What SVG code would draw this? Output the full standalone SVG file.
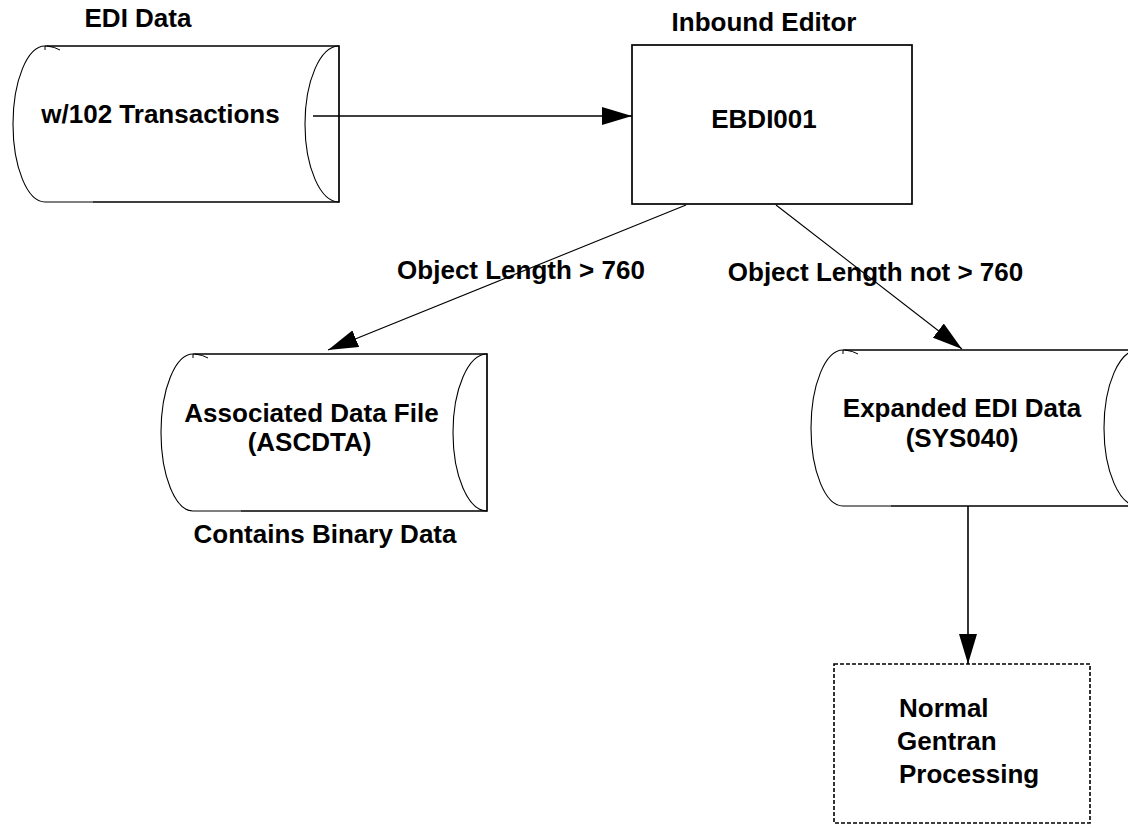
<svg xmlns="http://www.w3.org/2000/svg" width="1128" height="825" viewBox="0 0 1128 825">
<style>
  .t{font-family:"Liberation Sans",Arial,sans-serif;font-weight:bold;font-size:26px;fill:#000}
  .m{text-anchor:middle}
  .edge{fill:none;stroke:#000;stroke-width:1.7}
  .arc{fill:none;stroke:#000;stroke-width:1.1}
  .tick{fill:none;stroke:#000;stroke-width:1}
  .conn{fill:none;stroke:#000;stroke-width:1.1}
  .connb{fill:none;stroke:#000;stroke-width:1.6}
  .box{fill:#fff;stroke:#000;stroke-width:1.7}
  .dash{fill:#fff;stroke:#000;stroke-width:1.6;stroke-dasharray:4 2}
</style>
<defs>
  <marker id="ah" markerUnits="userSpaceOnUse" markerWidth="31" markerHeight="18" refX="30" refY="9" orient="auto">
    <path d="M0,0 L30,9 L0,18 Z" fill="#000"/>
  </marker>
</defs>
<rect width="1128" height="825" fill="#fff"/>

<g id="edi-data">
  <text class="t m" x="138" y="27">EDI Data</text>
  <path class="edge" d="M45,46 L339,46 L339,202 L93,202"/>
  <path class="tick" d="M93,202 L45,202 M45,46 L45,50 M47,46 Q55,47 60,50"/>
  <path class="arc" d="M45,202 A32,78 0 0 1 45,46 M339,46 A34,78 0 0 0 339,202"/>
  <text class="t m" x="160.5" y="123">w/102 Transactions</text>
</g>

<g id="ebdi001">
  <text class="t m" x="764" y="31">Inbound Editor</text>
  <rect class="box" x="632" y="45" width="280" height="159"/>
  <text class="t m" x="764" y="128">EBDI001</text>
</g>

<g id="ascdta">
  <path class="edge" d="M193,354 L487,354 L487,511 L241,511"/>
  <path class="tick" d="M241,511 L193,511 M193,354 L193,358 M195,354 Q203,355 208,358"/>
  <path class="arc" d="M193,511 A32,78.5 0 0 1 193,354 M487,354 A34,78.5 0 0 0 487,511"/>
  <text class="t m" x="311.5" y="422">Associated Data File</text>
  <text class="t m" x="309.5" y="451">(ASCDTA)</text>
  <text class="t m" x="325" y="543">Contains Binary Data</text>
</g>

<g id="sys040">
  <path class="edge" d="M843,350 L1138,350 L1138,506 L891,506"/>
  <path class="tick" d="M891,506 L843,506 M843,350 L843,354 M845,350 Q853,351 858,354"/>
  <path class="arc" d="M843,506 A32,78 0 0 1 843,350 M1138,350 A34,78 0 0 0 1138,506"/>
  <text class="t m" x="962" y="417">Expanded EDI Data</text>
  <text class="t m" x="962" y="447">(SYS040)</text>
</g>

<g id="gentran">
  <rect class="dash" x="834" y="664" width="256" height="159"/>
  <text class="t" x="899" y="717">Normal</text>
  <text class="t" x="897" y="750">Gentran</text>
  <text class="t" x="899" y="783">Processing</text>
</g>

<g id="connectors">
  <line class="connb" x1="313" y1="116" x2="632" y2="116" marker-end="url(#ah)"/>
  <line class="conn" x1="686" y1="205" x2="328" y2="350" marker-end="url(#ah)"/>
  <line class="conn" x1="776" y1="205" x2="962" y2="349" marker-end="url(#ah)"/>
  <line class="connb" x1="968" y1="506" x2="968" y2="664" marker-end="url(#ah)"/>
  <text class="t m" x="521" y="279">Object Length &gt; 760</text>
  <text class="t m" x="875.5" y="281">Object Length not &gt; 760</text>
</g>
</svg>
